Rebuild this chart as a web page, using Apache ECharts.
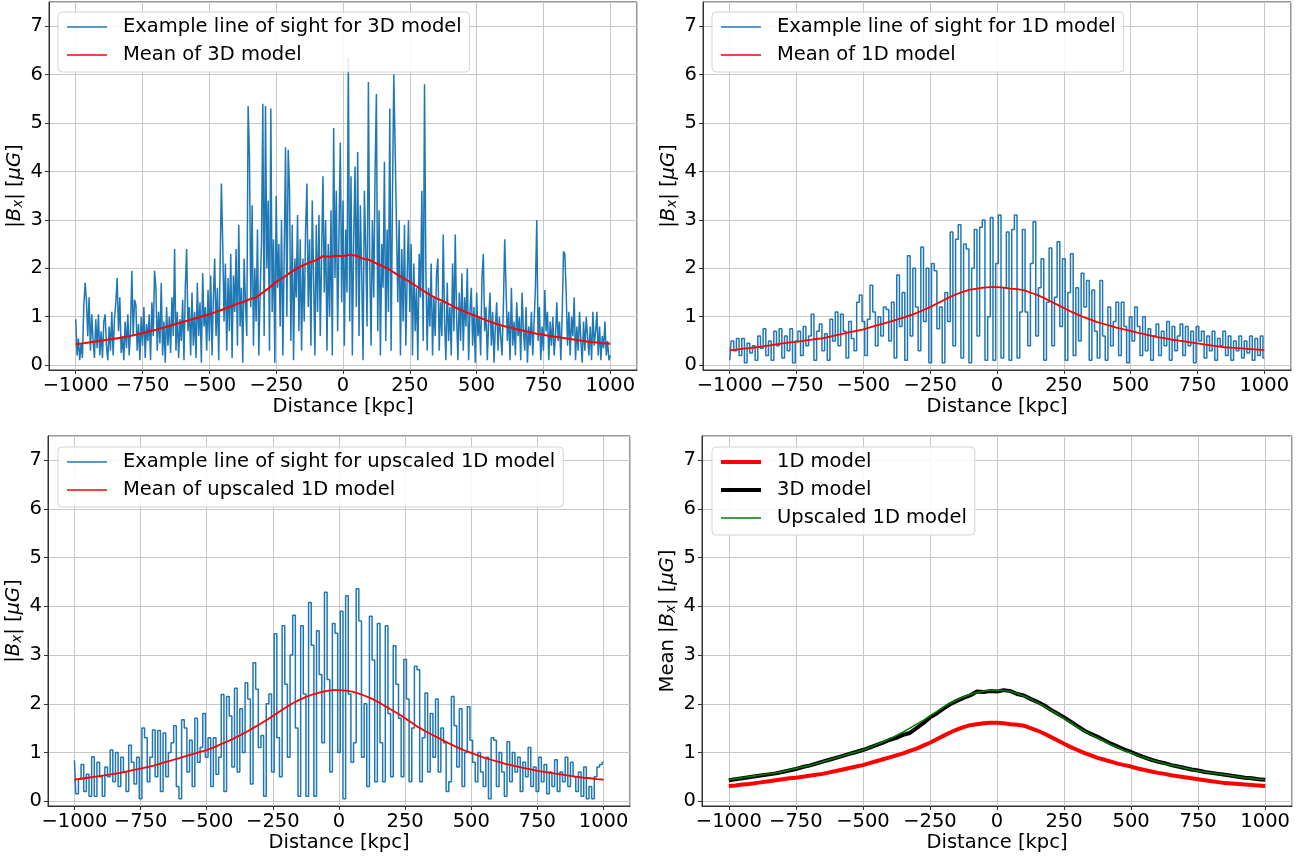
<!DOCTYPE html>
<html>
<head>
<meta charset="utf-8">
<script src="https://cdn.jsdelivr.net/npm/echarts@6/dist/echarts.min.js"></script>
<style>
html, body { margin: 0; padding: 0; background: #fff; }
#chart { width: 1316px; height: 858px; }
</style>
</head>
<body>
<div id="chart"></div>
<script>
// example line of sight through the 3D model, one sample every 5 kpc (-1000 .. 1000)
const los3D = [
  0.95, 0.2, 0.55, 0.1, 0.45, 0.15, 1.2, 1.7, 1.35, 0.6,
  1.4, 0.3, 1.05, 0.5, 0.15, 0.95, 0.35, 1.05, 0.2, 0.7,
  0.15, 0.9, 1.05, 0.4, 0.1, 0.8, 0.3, 1.1, 0.2, 0.95,
  1.3, 1.8, 0.7, 1.4, 0.25, 0.6, 0.1, 0.9, 0.35, 1.05,
  0.2, 0.75, 1.95, 0.6, 1.35, 1.25, 0.3, 0.85, 0.1, 1.0,
  0.4, 1.2, 0.15, 0.85, 0.5, 1.05, 0.1, 1.3, 0.6, 1.95,
  1.6, 0.3, 1.1, 0.45, 1.7, 0.2, 0.9, 0.05, 1.2, 0.4,
  1.0, 0.25, 1.4, 0.6, 2.4, 0.3, 1.1, 0.15, 0.95, 0.5,
  1.35, 0.1, 1.6, 2.4, 0.7, 1.2, 0.2, 1.5, 0.4, 1.1,
  0.15, 1.7, 0.6, 1.3, 0.05, 1.9, 0.8, 1.2, 0.3, 1.55,
  0.5, 1.85, 0.2, 1.4, 2.2, 0.6, 1.6, 0.1, 2.0, 3.75,
  2.5, 0.9, 2.1, 0.3, 1.8, 0.7, 2.3, 0.15, 1.85, 1.1,
  2.4, 0.4, 2.9, 0.8, 1.6, 0.05, 2.2, 1.3, 0.6, 5.35,
  4.3, 1.2, 3.3, 0.4, 2.0, 0.9, 2.8, 0.2, 1.5, 2.5,
  5.4, 0.6, 5.35, 2.0, 3.4, 0.3, 5.3, 1.1, 2.6, 0.05,
  3.5, 1.6, 2.5, 0.8, 3.0, 0.2, 2.3, 4.5, 1.0, 4.45,
  3.6, 0.5, 2.9, 0.1, 2.2, 1.4, 3.1, 0.7, 2.6, 0.3,
  2.2, 0.9, 2.8, 3.75, 1.2, 2.6, 0.4, 3.4, 1.8, 0.2,
  2.9, 1.1, 3.1, 0.6, 2.3, 3.9, 1.5, 3.0, 0.3, 2.5,
  1.0, 3.2, 0.2, 4.9, 1.8, 3.6, 0.7, 2.7, 4.6, 1.3,
  3.4, 0.4, 2.8, 1.5, 6.35, 0.9, 3.9, 0.2, 2.6, 4.1,
  1.2, 4.4, 0.6, 3.3, 1.9, 0.1, 3.6, 2.4, 0.8, 5.85,
  2.1, 0.4, 3.0, 1.4, 4.0, 5.6, 0.7, 3.2, 0.2, 2.5,
  1.6, 4.2, 0.5, 2.8, 1.1, 5.3, 0.3, 3.4, 6.0, 4.5,
  4.5, 1.3, 3.0, 0.2, 2.4, 0.9, 2.9, 0.4, 1.8, 3.0,
  1.1, 2.5, 0.2, 2.1, 0.7, 1.6, 0.1, 2.3, 1.4, 3.6,
  0.5, 5.8, 2.0, 0.3, 1.6, 0.8, 2.1, 0.2, 1.4, 0.6,
  1.9, 2.2, 0.3, 1.3, 0.6, 2.7, 0.9, 0.1, 1.7, 0.5,
  1.2, 0.2, 2.1, 0.7, 2.7, 1.0, 0.1, 1.5, 0.5, 1.9,
  0.3, 1.4, 0.8, 2.0, 0.1, 1.1, 1.6, 0.4, 1.2, 0.05,
  1.5, 0.6, 1.0, 0.2, 1.8, 2.3, 0.7, 1.2, 0.1, 0.9,
  1.5, 0.4, 1.1, 0.05, 0.8, 1.3, 0.3, 1.0, 0.6, 0.2,
  1.2, 2.6, 1.6, 0.5, 1.1, 0.1, 1.6, 0.4, 0.9, 0.2,
  1.3, 0.6, 1.0, 0.1, 1.5, 0.7, 0.3, 1.2, 0.05, 0.8,
  0.4, 1.1, 0.2, 0.9, 1.6, 3.0, 0.5, 1.2, 0.1, 0.8,
  0.3, 1.55, 0.7, 1.1, 0.1, 0.9, 0.4, 1.0, 0.2, 0.6,
  1.3, 0.5, 0.9, 0.1, 1.0, 2.35, 2.3, 1.5, 0.4, 1.1,
  0.2, 1.0, 0.6, 1.4, 0.1, 0.8, 0.3, 1.1, 0.5, 0.05,
  0.9, 0.3, 1.0, 0.6, 0.2, 0.8, 0.1, 1.1, 0.4, 0.7,
  1.1, 0.2, 0.8, 0.1, 0.6, 0.35, 0.9, 0.2, 0.5, 0.1,
  0.2
];

// example lines of sight for the 1D and upscaled 1D models, 10 kpc cells
const los1D = [
  0.1, 0.5, 0.3, 0.55, 0.2, 0.55, 0.05, 0.45, 0.25, 0.4,
  0.1, 0.6, 0.35, 0.75, 0.2, 0.5, 0.1, 0.7, 0.4, 0.75,
  0.15, 0.6, 0.3, 0.75, 0.05, 0.5, 0.7, 0.2, 0.8, 0.4,
  0.6, 1.05, 0.1, 0.7, 0.85, 0.3, 0.65, 0.1, 0.95, 0.5,
  1.1, 0.4, 1.05, 0.7, 0.15, 0.9, 0.55, 0.3, 1.3, 1.45,
  0.9, 0.2, 0.95, 1.65, 1.1, 0.4, 1.0, 0.6, 1.2, 1.15,
  0.5, 1.3, 0.15, 1.86, 0.8, 1.5, 0.1, 2.26, 0.6, 2.0,
  1.2, 0.3, 2.44, 0.9, 2.0, 0.05, 2.1, 1.95, 0.75, 1.2,
  0.05, 1.5, 0.9, 2.75, 0.4, 2.6, 2.9, 0.15, 2.5, 2.4,
  0.05, 2.0, 2.8, 0.6, 2.85, 3.0, 0.1, 1.0, 3.05, 0.1,
  2.1, 3.1, 0.15, 1.6, 2.75, 0.1, 2.8, 3.1, 0.15, 1.1,
  2.8, 1.1, 0.4, 2.1, 2.96, 0.6, 1.6, 2.2, 0.1, 1.3,
  2.42, 0.4, 1.4, 2.55, 0.8, 2.2, 0.1, 1.5, 2.3, 0.2,
  1.6, 0.5, 1.9, 1.2, 1.75, 0.1, 1.55, 0.7, 0.15, 1.75,
  0.6, 0.1, 1.2, 0.4, 0.9, 1.3, 0.2, 1.3, 0.8, 0.05,
  1.0, 0.5, 1.2, 0.8, 0.2, 1.0, 0.3, 0.75, 0.1, 0.6,
  0.85, 0.2, 0.7, 0.4, 0.9, 0.1, 0.8, 0.3, 0.6, 0.85,
  0.2, 0.8, 0.4, 0.7, 0.05, 0.8, 0.5, 0.7, 0.15, 0.6,
  0.3, 0.7, 0.1, 0.55, 0.4, 0.7, 0.2, 0.6, 0.1, 0.5,
  0.3, 0.6, 0.15, 0.5, 0.25, 0.6, 0.1, 0.55, 0.2, 0.6,
  0.15
];

const losUp = [
  0.84, 0.15, 0.45, 0.75, 0.2, 0.55, 0.1, 0.91, 0.1, 0.8,
  0.5, 0.1, 0.7, 0.5, 1.05, 0.4, 1.0, 0.3, 0.9, 0.6,
  0.2, 1.15, 0.8, 0.35, 0.9, 0.05, 1.5, 1.3, 0.4, 0.9,
  1.46, 0.5, 1.45, 0.2, 1.4, 0.5, 1.0, 1.2, 1.55, 0.3,
  0.05, 1.67, 1.5, 0.6, 1.25, 0.3, 1.7, 0.8, 1.1, 1.8,
  0.9, 1.3, 0.3, 1.3, 0.55, 0.9, 2.19, 0.2, 2.15, 1.75,
  0.7, 2.32, 0.6, 1.9, 1.0, 2.43, 2.1, 0.35, 2.84, 2.3,
  1.1, 1.35, 0.1, 2.0, 2.2, 0.6, 3.44, 1.3, 0.5, 3.6,
  2.4, 0.9, 3.0, 3.82, 1.5, 0.1, 3.6, 2.2, 0.1, 4.08,
  3.2, 0.1, 3.5, 2.6, 1.2, 4.29, 2.5, 0.6, 3.65, 3.45,
  1.0, 3.9, 0.05, 4.22, 2.2, 0.8, 1.2, 4.36, 3.7, 0.9,
  2.0, 0.3, 3.8, 2.9, 0.4, 3.65, 1.2, 0.4, 3.6, 1.8,
  0.5, 3.19, 2.4, 1.7, 0.5, 2.91, 2.1, 0.4, 1.5, 2.77,
  2.7, 0.4, 1.3, 2.22, 0.6, 1.8, 0.9, 2.1, 0.6, 1.5,
  1.2, 0.2, 0.4, 2.15, 1.55, 0.7, 1.9, 0.3, 1.0, 1.94,
  1.25, 0.8, 0.4, 1.0, 0.6, 0.3, 0.9, 0.05, 1.3, 1.25,
  0.3, 1.0, 0.6, 0.1, 1.22, 0.4, 1.0, 0.6, 0.9, 0.2,
  0.8, 0.5, 1.1, 0.3, 0.7, 0.2, 0.9, 0.4, 0.75, 0.15,
  0.6, 0.3, 0.85, 0.2, 0.6, 0.4, 0.9, 0.3, 0.8, 0.5,
  0.2, 0.6, 0.1, 0.7, 0.05, 0.3, 0.05, 0.5, 0.7, 0.75,
  0.8
];

// mean |Bx| over all lines of sight, every 25 kpc
const mean3D = [
  0.43, 0.45, 0.47, 0.49, 0.51, 0.53, 0.55, 0.57, 0.6, 0.63,
  0.66, 0.7, 0.73, 0.77, 0.81, 0.85, 0.89, 0.93, 0.97, 1.01,
  1.05, 1.1, 1.15, 1.2, 1.26, 1.3, 1.36, 1.4, 1.5, 1.6,
  1.72, 1.8, 1.9, 1.99, 2.06, 2.12, 2.17, 2.25, 2.24, 2.26,
  2.25, 2.28, 2.26, 2.2, 2.17, 2.1, 2.04, 1.97, 1.88, 1.8,
  1.72, 1.63, 1.54, 1.45, 1.38, 1.32, 1.25, 1.18, 1.12, 1.06,
  1.01, 0.95, 0.9, 0.85, 0.81, 0.78, 0.74, 0.71, 0.68, 0.65,
  0.63, 0.6, 0.58, 0.56, 0.54, 0.52, 0.5, 0.48, 0.47, 0.45,
  0.44
];
const mean1D = [
  0.31, 0.32, 0.34, 0.35, 0.37, 0.39, 0.41, 0.43, 0.45, 0.47,
  0.48, 0.5, 0.52, 0.54, 0.56, 0.59, 0.62, 0.65, 0.68, 0.71,
  0.74, 0.78, 0.82, 0.86, 0.9, 0.94, 0.98, 1.03, 1.08, 1.14,
  1.2, 1.27, 1.34, 1.41, 1.47, 1.52, 1.56, 1.58, 1.6, 1.61,
  1.61, 1.6, 1.58, 1.57, 1.55, 1.5, 1.45, 1.39, 1.32, 1.25,
  1.18, 1.11, 1.05, 0.99, 0.94, 0.89, 0.85, 0.81, 0.77, 0.74,
  0.71, 0.67, 0.64, 0.61, 0.58, 0.56, 0.53, 0.51, 0.49, 0.47,
  0.45, 0.43, 0.41, 0.39, 0.37, 0.36, 0.35, 0.34, 0.33, 0.32,
  0.31
];
const meanUp = [
  0.44, 0.46, 0.48, 0.5, 0.52, 0.54, 0.56, 0.58, 0.61, 0.64,
  0.67, 0.7, 0.73, 0.77, 0.81, 0.85, 0.89, 0.93, 0.97, 1.01,
  1.05, 1.1, 1.16, 1.22, 1.28, 1.35, 1.42, 1.5, 1.58, 1.66,
  1.75, 1.84, 1.93, 2.01, 2.08, 2.14, 2.19, 2.23, 2.26, 2.28,
  2.28, 2.27, 2.25, 2.21, 2.16, 2.1, 2.03, 1.95, 1.87, 1.79,
  1.7, 1.61, 1.52, 1.44, 1.37, 1.3, 1.23, 1.16, 1.1, 1.04,
  0.99, 0.94, 0.89, 0.85, 0.81, 0.77, 0.74, 0.71, 0.68, 0.65,
  0.62, 0.6, 0.58, 0.56, 0.54, 0.52, 0.5, 0.48, 0.47, 0.45,
  0.44
];

const xTicks = [-1000, -750, -500, -250, 0, 250, 500, 750, 1000];
const yTicks = [0, 1, 2, 3, 4, 5, 6, 7];

const FONT = 'DejaVu Sans';
const BLUE = '#1f77b4';

// pair values with their distance along the line of sight
function along(values, step) {
  return values.map((v, i) => [-1000 + i * step, v]);
}

function fmtX(v) {
  if (!xTicks.includes(v)) return '';
  return v < 0 ? '\u2212' + (-v) : String(v);
}

const axisText = { fontFamily: FONT, fontSize: 19.5, color: '#000' };
const nameRich = {
  n: { fontFamily: FONT, fontSize: 19.5, color: '#000' },
  i: { fontFamily: FONT, fontSize: 19.5, fontStyle: 'italic', color: '#000' },
  s: { fontFamily: FONT, fontSize: 13.5, fontStyle: 'italic', color: '#000', verticalAlign: 'bottom', lineHeight: 14, padding: [8, 0, 0, 0] }
};

function makeX(i) {
  return {
    type: 'value', gridIndex: i, min: -1100, max: 1100,
    splitNumber: 9, minInterval: 250, maxInterval: 250,
    name: 'Distance [kpc]', nameLocation: 'middle', nameGap: 27,
    nameTextStyle: axisText,
    axisLine: { show: true, onZero: false, lineStyle: { color: '#333', width: 1 } },
    axisTick: { show: true, length: 4, lineStyle: { color: '#333' } },
    axisLabel: Object.assign({ margin: 6, showMinLabel: false, showMaxLabel: false, formatter: fmtX }, axisText),
    splitLine: { show: true, lineStyle: { color: '#c8c8c8', width: 1 } }
  };
}

function makeY(i, name) {
  return {
    type: 'value', gridIndex: i, min: -0.1, max: 7.5,
    splitNumber: 7, minInterval: 1, maxInterval: 1,
    name: name, nameLocation: 'middle', nameGap: 24,
    nameTextStyle: { rich: nameRich },
    axisLine: { show: true, onZero: false, lineStyle: { color: '#333', width: 1 } },
    axisTick: { show: true, length: 4, lineStyle: { color: '#333' } },
    axisLabel: Object.assign({ margin: 6, showMinLabel: false, showMaxLabel: false,
      formatter: v => yTicks.includes(v) ? String(v) : '' }, axisText),
    splitLine: { show: true, lineStyle: { color: '#c8c8c8', width: 1 } }
  };
}

const thin = 'path://M0,0H40V1.6H0Z';
const thick = 'path://M0,0H40V4H0Z';

function makeLegend(left, top, items) {
  return {
    orient: 'vertical', left: left, top: top,
    data: items,
    itemWidth: 40, itemHeight: 14, itemGap: 8,
    padding: [5, 8, 7, 9],
    backgroundColor: 'rgba(255,255,255,0.85)',
    borderColor: '#d4d4d4', borderWidth: 1, borderRadius: 4,
    selectedMode: false,
    itemStyle: { borderWidth: 0 },
    formatter: name => '{t|' + name + '}',
    textStyle: { rich: { t: { fontFamily: FONT, fontSize: 19.5, color: '#000', padding: [0, 0, 0, 11] } } }
  };
}

function line(name, axis, data, color, width, step, z) {
  return {
    type: 'line', name: name, xAxisIndex: axis, yAxisIndex: axis,
    data: data, symbol: 'none', showSymbol: false, step: step || false,
    lineStyle: { color: color, width: width }, itemStyle: { color: color },
    z: z || 2
  };
}

const bx = '{n||}{i|B}{s|x}{n|| [}{i|μG}{n|]}';

const chart = echarts.init(document.getElementById('chart'), null, { renderer: 'canvas' });
chart.setOption({
  animation: false,
  backgroundColor: '#fff',
  grid: [
    { left: 49, top: 2, width: 588, height: 368, show: true, borderColor: '#333', borderWidth: 1 },
    { left: 703, top: 2, width: 588, height: 368, show: true, borderColor: '#333', borderWidth: 1 },
    { left: 48, top: 436, width: 582, height: 370, show: true, borderColor: '#333', borderWidth: 1 },
    { left: 702, top: 436, width: 590, height: 370, show: true, borderColor: '#333', borderWidth: 1 }
  ],
  xAxis: [makeX(0), makeX(1), makeX(2), makeX(3)],
  yAxis: [makeY(0, bx), makeY(1, bx), makeY(2, bx), makeY(3, '{n|Mean }' + bx)],
  legend: [
    makeLegend(58, 12, [
      { name: 'Example line of sight for 3D model', icon: thin },
      { name: 'Mean of 3D model', icon: thin }
    ]),
    makeLegend(712, 12, [
      { name: 'Example line of sight for 1D model', icon: thin },
      { name: 'Mean of 1D model', icon: thin }
    ]),
    makeLegend(58, 447, [
      { name: 'Example line of sight for upscaled 1D model', icon: thin },
      { name: 'Mean of upscaled 1D model', icon: thin }
    ]),
    makeLegend(712, 447, [
      { name: '1D model', icon: thick },
      { name: '3D model', icon: thick },
      { name: 'Upscaled 1D model', icon: thin }
    ])
  ],
  series: [
    line('Example line of sight for 3D model', 0, along(los3D, 5), BLUE, 1.5),
    line('Mean of 3D model', 0, along(mean3D, 25), 'red', 2, false, 3),
    line('Example line of sight for 1D model', 1, along(los1D, 10), BLUE, 1.5, 'middle'),
    line('Mean of 1D model', 1, along(mean1D, 25), 'red', 1.8, false, 3),
    line('Example line of sight for upscaled 1D model', 2, along(losUp, 10), BLUE, 1.5, 'middle'),
    line('Mean of upscaled 1D model', 2, along(meanUp, 25), 'red', 1.8, false, 3),
    line('1D model', 3, along(mean1D, 25), 'red', 4),
    line('3D model', 3, along(mean3D, 25), '#000', 4, false, 3),
    line('Upscaled 1D model', 3, along(meanUp, 25), 'green', 1.5, false, 4)
  ]
});
</script>
</body>
</html>
